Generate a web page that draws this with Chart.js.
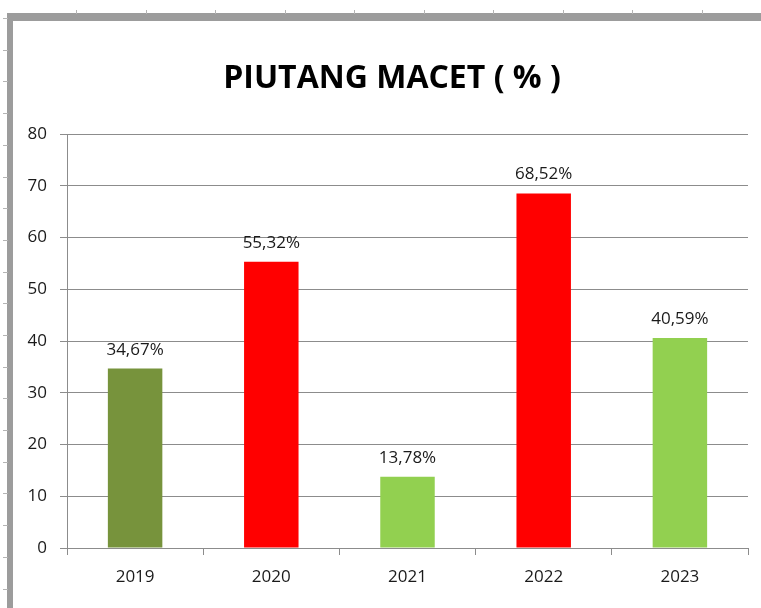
<!DOCTYPE html>
<html>
<head>
<meta charset="utf-8">
<script src="https://cdn.jsdelivr.net/npm/chart.js@4"></script>
<style>
  html, body { margin: 0; padding: 0; background: #fff; }
  #wrap { position: relative; width: 761px; height: 608px; overflow: hidden; }
  #wrap canvas { position: absolute; left: 0; top: 0; }
  .bar-top { position: absolute; left: 7px; top: 13px; width: 754px; height: 8px; background: #9c9c9c; }
  .bar-left { position: absolute; left: 7px; top: 13px; width: 6px; height: 595px; background: #9c9c9c; }
  .rule { position: absolute; background: #b4b4b4; }
</style>
</head>
<body>
<div id="wrap">
  <canvas id="chart" width="761" height="608"></canvas>
  <div class="bar-top"></div>
  <div class="bar-left"></div>
</div>
<script>
// data
const years = ['2019', '2020', '2021', '2022', '2023'];
const piutangMacet = [34.67, 55.32, 13.78, 68.52, 40.59];
const barColors = ['#77933c', '#ff0000', '#92d050', '#ff0000', '#92d050'];
const yTicks = [0, 10, 20, 30, 40, 50, 60, 70, 80];

const FONT = 'Open Sans';

// ruler stripes of the window round the chart
const wrap = document.getElementById('wrap');
for (let x = 76; x < 761; x += 69.5) {
    const d = document.createElement('div');
    d.className = 'rule';
    d.style.cssText = `left:${Math.round(x)}px;top:10px;width:1px;height:4px`;
    wrap.appendChild(d);
}
for (let y = 18; y < 608; y += 31.7) {
    const d = document.createElement('div');
    d.className = 'rule';
    d.style.cssText = `left:3px;top:${Math.round(y)}px;width:5px;height:1px`;
    wrap.appendChild(d);
}

// labels above the bars: 34,67%
const valueLabels = {
    id: 'valueLabels',
    afterDatasetsDraw(chart) {
        const { ctx } = chart;
        const meta = chart.getDatasetMeta(0);
        ctx.save();
        ctx.font = `17px "${FONT}"`;
        ctx.fillStyle = '#1a1a1a';
        ctx.textAlign = 'center';
        ctx.textBaseline = 'alphabetic';
        meta.data.forEach((bar, i) => {
            const txt = piutangMacet[i].toFixed(2).replace('.', ',') + '%';
            ctx.fillText(txt, bar.x, bar.y - 14);
        });
        ctx.restore();
    }
};

// titel iets naar rechts: Excel centreert boven het vak zonder de rand
const shiftTitle = {
    id: 'shiftTitle',
    afterLayout(chart) {
        if (chart.titleBlock) chart.titleBlock.left += 36;
    }
};

const whiteBg = {
    id: 'whiteBg',
    beforeDraw(chart) {
        const { ctx } = chart;
        ctx.save();
        ctx.fillStyle = '#ffffff';
        ctx.fillRect(0, 0, chart.width, chart.height);
        ctx.restore();
    }
};

new Chart(document.getElementById('chart'), {
    type: 'bar',
    data: {
        labels: years,
        datasets: [{
            label: 'Piutang Macet (%)',
            data: piutangMacet,
            backgroundColor: barColors,
            borderWidth: 0,
            categoryPercentage: 1,
            barPercentage: 0.4,
        }],
    },
    options: {
        responsive: false,
        animation: false,
        layout: { padding: { left: 0, right: 13, top: 0, bottom: 0 } },
        plugins: {
            legend: { display: false },
            tooltip: { enabled: false },
            title: {
                display: true,
                text: 'PIUTANG MACET ( % )',
                color: '#000000',
                font: { family: FONT, size: 32, weight: 'bold' },
                padding: { top: 60, bottom: 35.6 },
            },
        },
        scales: {
            x: {
                grid: {
                    display: true,
                    offset: true,
                    drawOnChartArea: false,
                    drawTicks: true,
                    tickLength: 7,
                    color: '#8c8c8c',
                },
                border: { color: '#8c8c8c', width: 1 },
                ticks: {
                    color: '#1a1a1a',
                    font: { family: FONT, size: 17 },
                    padding: 12,
                },
                afterFit(scale) { scale.height = 60; },
            },
            y: {
                min: 0,
                max: 80,
                afterBuildTicks(scale) { scale.ticks = yTicks.map(v => ({ value: v })); },
                grid: {
                    color: '#8c8c8c',
                    tickLength: 7,
                },
                border: { color: '#8c8c8c', width: 1 },
                ticks: {
                    color: '#1a1a1a',
                    font: { family: FONT, size: 17 },
                    padding: 13,
                },
                afterFit(scale) { scale.width = 67; },
            },
        },
    },
    plugins: [whiteBg, shiftTitle, valueLabels],
});
</script>
</body>
</html>
